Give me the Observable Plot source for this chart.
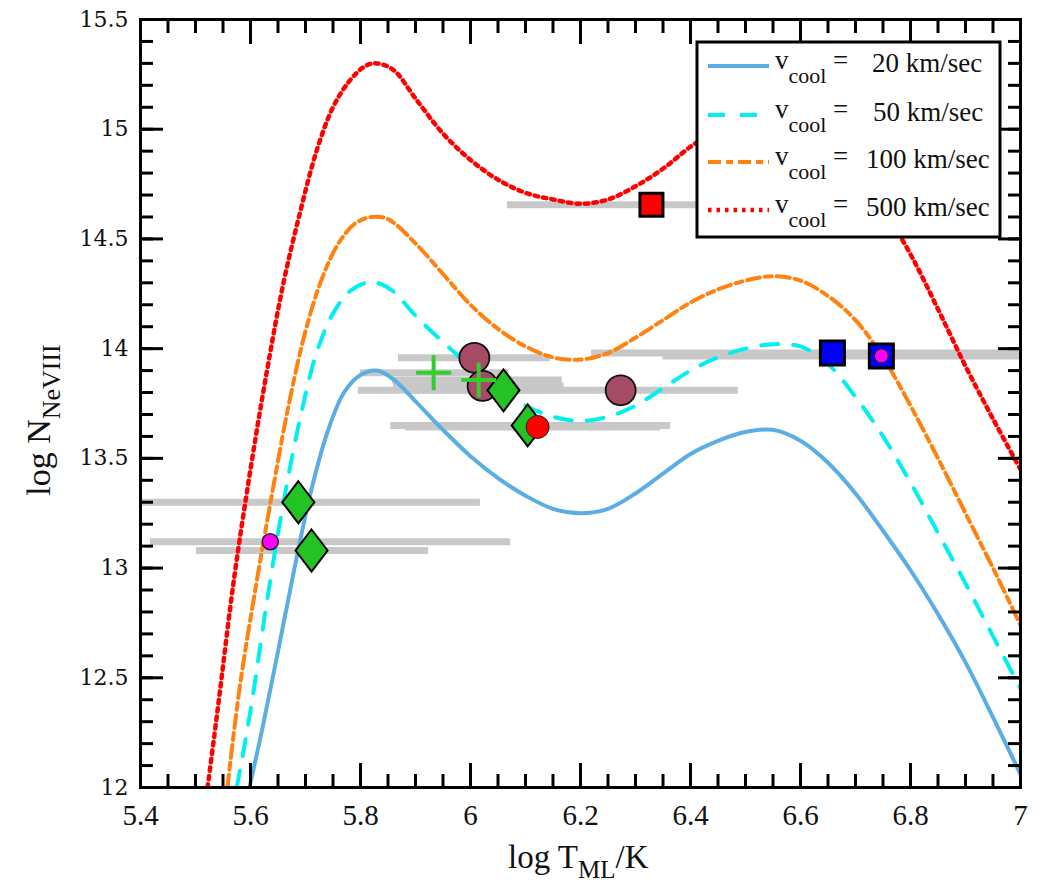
<!DOCTYPE html>
<html><head><meta charset="utf-8">
<script src="https://cdn.jsdelivr.net/npm/d3@7"></script>
<script src="https://cdn.jsdelivr.net/npm/@observablehq/plot@0.6"></script>
<style>body{margin:0;background:#fff} svg{display:block}</style>
</head><body><div id="chart"></div>
<script>
const SERIF = "'Liberation Serif', 'Times New Roman', Times, serif";
const YSERIF = "'DejaVu Serif', serif";
// ---- tick labels
const xTicks = [5.4, 5.6, 5.8, 6, 6.2, 6.4, 6.6, 6.8, 7];
const xTickLabels = ["5.4", "5.6", "5.8", "6", "6.2", "6.4", "6.6", "6.8", "7"];
const yTicks = [12, 12.5, 13, 13.5, 14, 14.5, 15, 15.5];
const yTickLabels = ["12", "12.5", "13", "13.5", "14", "14.5", "15", "15.5"];
const xMinor = d3.range(5.4, 7.0001, 0.05).map(v => +v.toFixed(2));
const yMinor = d3.range(12, 15.5001, 0.1).map(v => +v.toFixed(1));

// ---- model curves (log T, log N)
const c20x = [5.598,5.62,5.65,5.68,5.71,5.74,5.77,5.80,5.83,5.86,5.90,5.95,6.00,6.05,6.10,6.15,6.20,6.25,6.30,6.35,6.40,6.45,6.50,6.55,6.60,6.65,6.70,6.75,6.80,6.85,6.90,6.95,7.00];
const c20y = [12.0,12.25,12.62,13.0,13.35,13.62,13.80,13.88,13.90,13.86,13.76,13.63,13.51,13.41,13.33,13.27,13.25,13.27,13.34,13.43,13.52,13.58,13.62,13.63,13.58,13.48,13.34,13.17,12.99,12.79,12.57,12.32,12.06];
const c50x = [5.575,5.60,5.63,5.66,5.69,5.72,5.75,5.78,5.81,5.83,5.86,5.90,5.95,6.00,6.05,6.10,6.15,6.20,6.25,6.30,6.35,6.40,6.45,6.50,6.55,6.60,6.65,6.70,6.75,6.80,6.85,6.90,6.95,7.00];
const c50y = [12.0,12.35,12.85,13.30,13.68,13.98,14.16,14.26,14.30,14.30,14.26,14.15,14.03,13.92,13.83,13.74,13.69,13.67,13.69,13.74,13.82,13.90,13.96,14.00,14.02,14.01,13.93,13.78,13.60,13.39,13.16,12.93,12.69,12.45];
const c100x = [5.558,5.58,5.61,5.64,5.67,5.70,5.73,5.76,5.79,5.82,5.85,5.90,5.95,6.00,6.05,6.10,6.15,6.20,6.25,6.30,6.35,6.40,6.45,6.50,6.55,6.60,6.65,6.70,6.75,6.80,6.85,6.90,6.95,7.00];
const c100y = [12.0,12.45,12.92,13.35,13.75,14.08,14.32,14.48,14.57,14.60,14.59,14.48,14.34,14.20,14.09,14.01,13.96,13.95,13.98,14.05,14.13,14.21,14.27,14.31,14.33,14.31,14.24,14.13,13.96,13.74,13.50,13.25,13.00,12.74];
const c500x = [5.522,5.54,5.57,5.60,5.63,5.66,5.69,5.72,5.75,5.78,5.81,5.83,5.86,5.90,5.95,6.00,6.05,6.10,6.15,6.20,6.25,6.30,6.35,6.40,6.45,6.50,6.55,6.60,6.65,6.70,6.75,6.80,6.85,6.90,6.95,7.00];
const c500y = [12.0,12.35,12.95,13.45,13.90,14.30,14.62,14.90,15.10,15.22,15.29,15.30,15.27,15.14,14.98,14.86,14.77,14.71,14.68,14.66,14.68,14.74,14.82,14.92,15.00,15.05,15.07,15.04,14.95,14.82,14.64,14.43,14.18,13.92,13.68,13.45];
const seriesNames = ["20", "50", "100", "500"];
const seriesColors = ["#5aaee3", "#00f0f0", "#ff8210", "#ff0000"];
const seriesDash = [null, "17,15", "13,5,7,5", "3.5,5"];
const seriesWidth = [4, 4, 4, 4.5];

// ---- observations
const obsX  = [6.329, 6.658, 6.747, 6.007, 5.933, 6.015, 6.022, 6.060, 6.273, 6.104, 6.122, 5.687, 5.636, 5.711];
const obsY  = [14.656, 13.98, 13.967, 13.958, 13.89, 13.857, 13.83, 13.81, 13.81, 13.65, 13.643, 13.30, 13.12, 13.08];
const obsLo = [6.067, 6.22, 6.35, 5.869, 5.80, 5.858, 5.86, 5.89, 5.796, 5.855, 5.882, 5.40, 5.418, 5.502];
const obsHi = [6.70, 7.05, 7.05, 6.145, 6.07, 6.167, 6.17, 6.16, 6.487, 6.364, 6.345, 6.018, 6.073, 5.924];
const obsKind = ["redSquare","blueSquare","blueSquareDot","maroon","plus","plus","maroon","diamond","maroon","diamond","redCircle","diamond","magenta","diamond"];

const curves = [[c20x,c20y],[c50x,c50y],[c100x,c100y],[c500x,c500y]];
const curveRows = curves.map(([xs, ys], k) => xs.map((x, i) => ({series: seriesNames[k], x, y: ys[i]})));
const obs = obsX.map((x, i) => ({x, y: obsY[i], lo: obsLo[i], hi: obsHi[i], kind: obsKind[i]}));
const of = k => obs.filter(d => d.kind === k);

const diamondSym = {draw(ctx, size) { const r = Math.sqrt(size / Math.PI); const w = r * 0.8, h = r * 1.05;
  ctx.moveTo(0, -h); ctx.lineTo(w, 0); ctx.lineTo(0, h); ctx.lineTo(-w, 0); ctx.closePath(); }};
const squareSym = {draw(ctx, size) { const r = Math.sqrt(size / Math.PI);
  ctx.moveTo(-r, -r); ctx.lineTo(r, -r); ctx.lineTo(r, r); ctx.lineTo(-r, r); ctx.closePath(); }};
const plusSym = {draw(ctx, size) { const r = Math.sqrt(size / Math.PI);
  ctx.moveTo(-r, 0); ctx.lineTo(r, 0); ctx.moveTo(0, -r); ctx.lineTo(0, r); }};

const tickOpts = (len) => ({strokeWidth: 3, fill: "none", label: null, tickSize: len});

const plot = Plot.plot({
  width: 1041, height: 886,
  marginLeft: 140, marginRight: 21, marginTop: 19, marginBottom: 99,
  x: {domain: [5.4, 7.0]},
  y: {domain: [12, 15.5]},
  style: {fontFamily: SERIF, background: "#fff"},
  marks: [
    Plot.ruleY(obs, {y: "y", x1: "lo", x2: "hi", stroke: "#c8c8c8", strokeWidth: 7, clip: true}),
    ...curveRows.map((rows, k) => Plot.line(rows, {x: "x", y: "y", stroke: seriesColors[k], strokeWidth: seriesWidth[k],
      strokeDasharray: seriesDash[k], curve: "catmull-rom", clip: true})),
    Plot.dot(of("maroon"), {x: "x", y: "y", r: 15, fill: "#a64b66", stroke: "#111", strokeWidth: 1.8}),
    Plot.dot(of("diamond"), {x: "x", y: "y", r: 20, symbol: diamondSym, fill: "#22c322", stroke: "#000", strokeWidth: 2}),
    Plot.dot(of("plus"), {x: "x", y: "y", r: 17.5, symbol: plusSym, fill: "none", stroke: "#33cc33", strokeWidth: 4}),
    Plot.dot(of("redCircle"), {x: "x", y: "y", r: 11.5, fill: "#ff0000", stroke: "#222", strokeWidth: 1}),
    Plot.dot(of("redSquare"), {x: "x", y: "y", r: 11.5, symbol: squareSym, fill: "#ff0000", stroke: "#000", strokeWidth: 3}),
    Plot.dot(of("blueSquare").concat(of("blueSquareDot")), {x: "x", y: "y", r: 12, symbol: squareSym, fill: "#0000ff", stroke: "#000", strokeWidth: 3}),
    Plot.dot(of("blueSquareDot"), {x: "x", y: "y", r: 7, fill: "#ff00ff", stroke: "#222", strokeWidth: 1.2}),
    Plot.dot(of("magenta"), {x: "x", y: "y", r: 8, fill: "#ff00ff", stroke: "#222", strokeWidth: 1.5}),
    // inward ticks on all four sides (outward ticks shifted inside the frame)
    Plot.axisX(xMinor, {anchor: "bottom", dy: -13, ...tickOpts(13)}),
    Plot.axisX(xTicks, {anchor: "bottom", dy: -24, ...tickOpts(24)}),
    Plot.axisX(xMinor, {anchor: "top", dy: 13, ...tickOpts(13)}),
    Plot.axisX(xTicks, {anchor: "top", dy: 24, ...tickOpts(24)}),
    Plot.axisY(yMinor, {anchor: "left", dx: 13, ...tickOpts(13)}),
    Plot.axisY(yTicks, {anchor: "left", dx: 23, ...tickOpts(23)}),
    Plot.axisY(yMinor, {anchor: "right", dx: -13, ...tickOpts(13)}),
    Plot.axisY(yTicks, {anchor: "right", dx: -23, ...tickOpts(23)}),
    // tick labels
    Plot.text(xTicks, {x: d => d, text: (d, i) => xTickLabels[i], frameAnchor: "bottom", lineAnchor: "top", dy: 17,
      fontSize: 29, fontFamily: SERIF, fill: "#111"}),
    Plot.text(yTicks, {y: d => d, text: (d, i) => yTickLabels[i], frameAnchor: "left", textAnchor: "end", dx: -12,
      fontSize: 22, fontFamily: YSERIF, fill: "#111"}),
    Plot.frame({stroke: "#000", strokeWidth: 3})
  ]
});
document.getElementById("chart").appendChild(plot);

const svg = d3.select(plot);
// ---- axis titles and legend (pixel layout)
const xt = svg.append("text").attr("x", 508).attr("y", 868).attr("text-anchor", "start")
  .style("font-family", SERIF).attr("font-size", 33).attr("fill", "#111");
xt.append("tspan").text("log T");
xt.append("tspan").attr("dy", 10).attr("font-size", 25).text("ML");
xt.append("tspan").attr("dy", -10).text("/K");
const yt = svg.append("text").attr("transform", "translate(50,420) rotate(-90)").attr("text-anchor", "middle")
  .style("font-family", SERIF).attr("font-size", 34).attr("fill", "#111");
yt.append("tspan").text("log N");
yt.append("tspan").attr("dy", 10).attr("font-size", 26).text("NeVIII");

const lg = svg.append("g").style("font-family", SERIF).attr("text-anchor", "start");
lg.append("rect").attr("x", 697).attr("y", 42).attr("width", 303).attr("height", 195).attr("fill", "#fff").attr("stroke", "#000").attr("stroke-width", 3);
const rowY = [66, 115, 162, 210];
const valX = [872, 873, 866, 866];
const valText = ["20 km/sec", "50 km/sec", "100 km/sec", "500 km/sec"];
rowY.forEach((y, k) => {
  lg.append("line").attr("x1", 708).attr("x2", 769).attr("y1", y).attr("y2", y)
    .attr("stroke", seriesColors[k]).attr("stroke-width", seriesWidth[k]).attr("stroke-dasharray", seriesDash[k]);
  const t = lg.append("text").attr("x", 775).attr("y", y + 3).attr("font-size", 27).attr("fill", "#111");
  t.append("tspan").text("v");
  t.append("tspan").attr("dy", 14).attr("font-size", 22).text("cool");
  lg.append("text").attr("x", 833).attr("y", y + 3).attr("font-size", 27).attr("fill", "#111").text("=");
  lg.append("text").attr("x", valX[k]).attr("y", y + 6).attr("font-size", 27).attr("fill", "#111").text(valText[k]);
});
</script></body></html>
